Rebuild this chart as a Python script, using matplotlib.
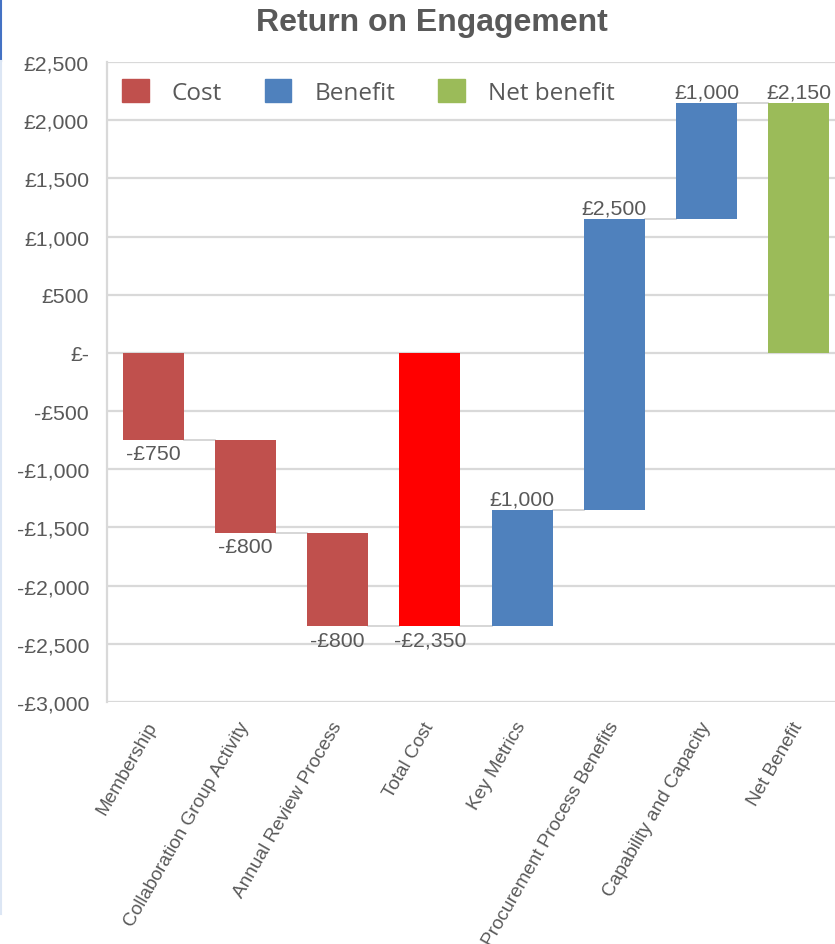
import matplotlib.pyplot as plt
from matplotlib.patches import Patch
from matplotlib.lines import Line2D
from matplotlib.ticker import FuncFormatter, MultipleLocator

# data
categories = ['Membership', 'Collaboration Group Activity', 'Annual Review Process',
              'Total Cost', 'Key Metrics', 'Procurement Process Benefits',
              'Capability and Capacity', 'Net Benefit']
values = [-750, -800, -800, -2350, 1000, 2500, 1000, 2150]
is_total = [False, False, False, True, False, False, False, True]
kinds = ['Cost', 'Cost', 'Cost', 'Total', 'Benefit', 'Benefit', 'Benefit', 'Net benefit']

colors = {'Cost': '#C0504D', 'Total': '#FF0000', 'Benefit': '#4F81BD', 'Net benefit': '#9BBB59'}
grey = '#595959'
grid_c = '#D9D9D9'

plt.rcParams['font.family'] = ['Liberation Sans', 'DejaVu Sans']

fig = plt.figure(figsize=(8.35, 9.45), dpi=100)
ax = fig.add_axes([107 / 835, 242 / 945, 738 / 835, 640 / 945])

# running totals for the waterfall
bottoms, tops = [], []
level = 0
for v, tot in zip(values, is_total):
    if tot:
        start, end = 0, v
        level = v
    else:
        start, end = level, level + v
        level = end
    bottoms.append(start)
    tops.append(end)

x = list(range(len(categories)))
w = 0.66
for i in x:
    ax.bar(i, tops[i] - bottoms[i], bottom=bottoms[i], width=w,
           color=colors[kinds[i]], zorder=3)

# connector lines between bars
for i in x[:-1]:
    lvl = tops[i]
    ax.plot([i + w / 2, i + 1 - w / 2], [lvl, lvl], color='#D0D0D0', lw=1.2, zorder=2)

# data labels
for i, v in enumerate(values):
    txt = f"-£{abs(v):,}" if v < 0 else f"£{v:,}"
    if v < 0:
        ax.annotate(txt, (i, tops[i]), xytext=(0, -3), textcoords='offset points',
                    ha='center', va='top', fontsize=15.3, color=grey, zorder=4)
    else:
        ax.annotate(txt, (i, tops[i]), xytext=(0, 1), textcoords='offset points',
                    ha='center', va='bottom', fontsize=15.3, color=grey, zorder=4)

ax.set_xlim(-0.5, 7.5)
ax.set_ylim(-3000, 2500)
ax.yaxis.set_major_locator(MultipleLocator(500))


def money(y, pos):
    y = int(round(y))
    if y == 0:
        return '£-'
    if y < 0:
        return f"-£{abs(y):,}"
    return f"£{y:,}"


ax.yaxis.set_major_formatter(FuncFormatter(money))
ax.grid(axis='y', color=grid_c, lw=1.6, zorder=0)
ax.set_axisbelow(True)
for s in ['top', 'right', 'bottom']:
    ax.spines[s].set_visible(False)
ax.spines['left'].set_color(grid_c)
ax.spines['left'].set_linewidth(1.6)
ax.tick_params(axis='y', length=0, pad=13, labelsize=15.3, labelcolor=grey)
ax.tick_params(axis='x', length=0, pad=15)
ax.set_xticks(x)
ax.set_xticklabels(categories, rotation=60, ha='right', va='center',
                   rotation_mode='anchor', fontsize=13.7, color=grey)

fig.text(0.517, 0.976, 'Return on Engagement', ha='center', va='center',
         fontsize=23, fontweight='bold', color=grey)

handles = [Patch(color=colors[k]) for k in ['Cost', 'Benefit', 'Net benefit']]
ax.legend(handles, ['Cost', 'Benefit', 'Net benefit'], ncol=3, frameon=False,
          loc='center left', bbox_to_anchor=(122 / 835, 1 - 93 / 945),
          bbox_transform=fig.transFigure, borderpad=0, borderaxespad=0,
          handlelength=1.1, handleheight=1.1, handletextpad=0.95, columnspacing=1.75,
          prop={'family': 'Open Sans', 'size': 17.5}, labelcolor=grey)

# thin blue edge from the original screenshot
fig.add_artist(Line2D([1 / 835, 1 / 835], [1, 1 - 62 / 945], color='#4472C4', lw=1.5))
fig.add_artist(Line2D([1 / 835, 1 / 835], [1 - 62 / 945, 1 - 915 / 945], color='#DCE6F4', lw=1.5))

fig.savefig('out.png', dpi=100)
